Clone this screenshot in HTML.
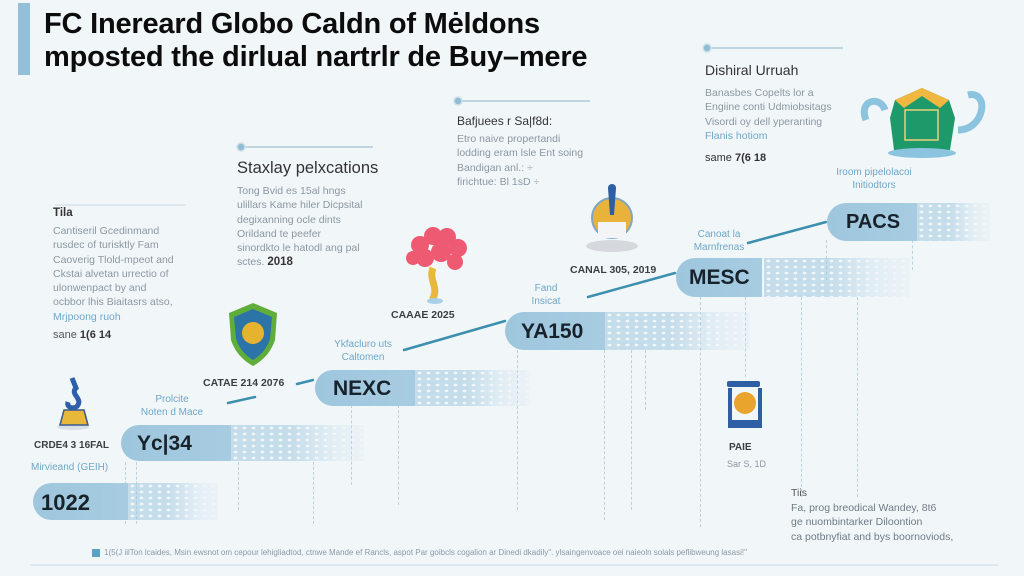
<!DOCTYPE html>
<html><head><meta charset="utf-8">
<style>
*{margin:0;padding:0;box-sizing:border-box}
html,body{width:1024px;height:576px;overflow:hidden;background:#f1f6f9}
body{position:relative;font-family:"Liberation Sans",sans-serif}
.a{position:absolute;white-space:nowrap}
.t{font-weight:bold;color:#0c0c0c;font-size:29px;letter-spacing:-0.2px}
.g{color:#8b98a2;font-size:10.5px;line-height:14.3px}
.b{color:#6fa7c8;font-size:10px;line-height:12.5px;text-align:center}
.lab{font-weight:bold;color:#3a3f44;font-size:10.5px}
.pill{position:absolute;border-radius:19px 0 0 19px;overflow:hidden}
.pill .s{position:absolute;left:0;top:0;bottom:0;background:linear-gradient(to right,#9ec6dd,#a7cce2)}
.pill .f{position:absolute;top:0;bottom:0;background-color:rgba(160,201,224,0.55);
background-image:radial-gradient(ellipse 3px 2px,#f1f6f9 60%,transparent 70%);background-size:9px 6px;
-webkit-mask-image:linear-gradient(to right,#000 0%,#000 45%,rgba(0,0,0,0.35) 75%,rgba(0,0,0,0.1) 100%);
mask-image:linear-gradient(to right,#000 0%,#000 45%,rgba(0,0,0,0.35) 75%,rgba(0,0,0,0.1) 100%)}
.pill span{position:absolute;font-weight:bold;color:#17222b;font-size:21px;top:7px}
.dash{position:absolute;width:0;border-left:1px dashed #b9d2e0}
</style></head><body>

<div class="a" style="left:18px;top:3px;width:12px;height:72px;background:#93c0d8"></div>
<div class="a t" style="left:44px;top:8px">FC Inereard Globo Caldn of Mėldons</div>
<div class="a t" style="left:44px;top:41px">mposted the dirlual nartrlr de Buy–mere</div>

<!-- dashed verticals -->
<div class="dash" style="left:125px;top:462px;height:62px"></div>
<div class="dash" style="left:136px;top:462px;height:62px"></div>
<div class="dash" style="left:238px;top:462px;height:48px"></div>
<div class="dash" style="left:313px;top:462px;height:62px"></div>
<div class="dash" style="left:351px;top:405px;height:80px"></div>
<div class="dash" style="left:398px;top:405px;height:100px"></div>
<div class="dash" style="left:517px;top:350px;height:160px"></div>
<div class="dash" style="left:604px;top:350px;height:170px"></div>
<div class="dash" style="left:631px;top:350px;height:160px"></div>
<div class="dash" style="left:645px;top:350px;height:60px"></div>
<div class="dash" style="left:700px;top:297px;height:230px"></div>
<div class="dash" style="left:745px;top:297px;height:80px"></div>
<div class="dash" style="left:801px;top:297px;height:200px"></div>
<div class="dash" style="left:857px;top:297px;height:200px"></div>
<div class="dash" style="left:826px;top:240px;height:40px"></div>
<div class="dash" style="left:912px;top:240px;height:30px"></div>

<!-- connectors -->
<svg class="a" style="left:0;top:0" width="1024" height="576">
<g stroke="#3d8fae" stroke-width="2.5" stroke-linecap="round">
<line x1="228" y1="403" x2="255" y2="397"/>
<line x1="297" y1="384" x2="313" y2="380"/>
<line x1="404" y1="350" x2="505" y2="321"/>
<line x1="588" y1="297" x2="675" y2="273"/>
<line x1="748" y1="243" x2="826" y2="222"/>
</g>
<g stroke="#c9dbe5" stroke-width="1">
<line x1="30" y1="565" x2="998" y2="565"/>
<line x1="55" y1="205" x2="186" y2="205"/>
</g>
<g stroke="#9fc1d4" stroke-width="1.2">
<line x1="245" y1="147" x2="373" y2="147"/>
<line x1="462" y1="101" x2="590" y2="101"/>
<line x1="711" y1="48" x2="843" y2="48"/>
</g>
<g fill="#8fbdd3" stroke="#cfe1ea" stroke-width="1.5">
<circle cx="241" cy="147" r="4"/><circle cx="458" cy="101" r="4"/><circle cx="707" cy="48" r="4"/>
</g>
<rect x="92" y="549" width="8" height="8" fill="#5aa3c4"/>

<!-- anchor icon -->
<ellipse cx="73" cy="427" rx="16" ry="3" fill="#d6e0e6"/>
<path d="M60 425 L64 410 L84 410 L88 425 Z" fill="#e8b83a" stroke="#3a5a8e" stroke-width="1.5"/>
<path d="M72 378 L76 388 C70 394 82 398 78 405 C75 410 66 408 68 402" fill="none" stroke="#2f5fa8" stroke-width="5"/>
<!-- shield -->
<path d="M229 313 L253 303 L277 313 L275 340 C270 355 260 362 253 366 C246 362 236 355 231 340 Z" fill="#5fae3a"/>
<path d="M234 317 L253 309 L272 317 L270 339 C266 351 259 356 253 360 C247 356 240 351 236 339 Z" fill="#2c74a8"/>
<circle cx="253" cy="333" r="11" fill="#e6b32e"/>
<!-- tree -->
<path d="M433 268 C428 280 440 288 432 300" stroke="#e8b83a" stroke-width="7" fill="none"/>
<ellipse cx="435" cy="301" rx="8" ry="3" fill="#a9cfe4"/>
<g fill="#ee5a72"><circle cx="420" cy="245" r="9"/><circle cx="433" cy="236" r="9"/><circle cx="447" cy="237" r="9"/><circle cx="458" cy="248" r="9"/><circle cx="425" cy="258" r="9"/><circle cx="441" cy="252" r="10"/><circle cx="455" cy="262" r="8"/><circle cx="413" cy="258" r="7"/></g>
<!-- rocket -->
<ellipse cx="612" cy="246" rx="26" ry="6" fill="#d5d9dd"/>
<circle cx="612" cy="218" r="20" fill="#e9b23a" stroke="#7fa7c6" stroke-width="2"/>
<rect x="598" y="222" width="28" height="16" fill="#f2f4f5"/>
<path d="M608 188 L616 188 L614 215 L610 215 Z" fill="#2e5fa5"/>
<circle cx="612" cy="188" r="4" fill="#2e5fa5"/>
<!-- house -->
<path d="M866 120 C858 100 880 95 885 110 M968 95 C990 90 985 130 958 130" stroke="#8cc4e0" stroke-width="7" fill="none"/>
<path d="M890 118 L895 100 L922 88 L949 100 L955 118 L950 150 L894 150 Z" fill="#1e9a6a"/>
<path d="M895 100 L922 88 L949 100 L940 108 L922 96 L904 108 Z" fill="#f0b840"/>
<rect x="905" y="110" width="33" height="30" fill="none" stroke="#e9d27a" stroke-width="1.5"/>
<ellipse cx="922" cy="153" rx="34" ry="5" fill="#8cc4e0"/>
<!-- PAIE -->
<rect x="727" y="381" width="33" height="6" rx="2" fill="#2e5fa5"/>
<path d="M728 388 L732 388 L732 420 L758 420 L758 388 L762 388 L762 428 L728 428 Z" fill="#2e5fa5"/>
<circle cx="745" cy="403" r="11" fill="#e9a42e"/>
</svg>

<!-- pills -->
<div class="pill" style="left:33px;top:483px;width:185px;height:37px"><div class="s" style="width:95px"></div><div class="f" style="left:95px;width:90px"></div><span style="left:8px;font-size:22px">1022</span></div>
<div class="pill" style="left:121px;top:425px;width:243px;height:36px"><div class="s" style="width:110px"></div><div class="f" style="left:110px;width:133px"></div><span style="left:16px">Yc|34</span></div>
<div class="pill" style="left:315px;top:370px;width:215px;height:36px"><div class="s" style="width:100px"></div><div class="f" style="left:100px;width:115px"></div><span style="left:18px">NEXC</span></div>
<div class="pill" style="left:505px;top:312px;width:245px;height:38px"><div class="s" style="width:100px"></div><div class="f" style="left:100px;width:145px"></div><span style="left:16px;top:8px">YA150</span></div>
<div class="pill" style="left:676px;top:258px;width:234px;height:39px"><div class="s" style="width:86px"></div><div class="f" style="left:88px;width:146px"></div><span style="left:13px;top:8px">MESC</span></div>
<div class="pill" style="left:827px;top:203px;width:163px;height:38px"><div class="s" style="width:90px"></div><div class="f" style="left:90px;width:73px"></div><span style="left:19px;font-size:20px;top:8px">PACS</span></div>

<!-- left block -->
<div class="a" style="left:53px;top:207px;font-size:11.5px;font-weight:bold;color:#333">Tila</div>
<div class="a g" style="left:53px;top:224px">Cantiseril Gcedinmand<br>rusdec of turisktly Fam<br>Caoverig Tlold-mpeot and<br>Ckstai alvetan urrectio of<br>ulonwenpact by and<br>ocbbor lhis Biaitasrs atso,<br><span style="color:#6fa7c8">Mrjpoong ruoh</span></div>
<div class="a" style="left:53px;top:329px;font-size:11px;color:#333"><span style="color:#555">sane</span> <b>1(6 14</b></div>

<div class="a" style="left:237px;top:159px;font-size:16.5px;color:#333">Staxlay pelxcations</div>
<div class="a g" style="left:237px;top:184px">Tong Bvid es 15al hngs<br>ulillars Kame hiler Dicpsital<br>degixanning ocle dints<br>Orildand te peefer<br>sinordkto le hatodl ang pal<br>sctes. <b style="color:#333;font-size:11.5px">2018</b></div>

<div class="a" style="left:457px;top:114px;font-size:12px;color:#333">Bafjuees r Sa|f8d:</div>
<div class="a g" style="left:457px;top:132px">Etro naive propertandi<br>lodding eram lsle Ent soing<br>Bandigan anl.: ÷<br>firichtue: Bl 1sD ÷</div>

<div class="a" style="left:705px;top:62px;font-size:14px;color:#333">Dishiral Urruah</div>
<div class="a g" style="left:705px;top:86px">Banasbes Copelts lor a<br>Engiine conti Udmiobsitags<br>Visordi oy dell yperanting<br><span style="color:#6fa7c8">Flanis hotiom</span></div>
<div class="a" style="left:705px;top:152px;font-size:11px;color:#333">same <b>7(6 18</b></div>
<div class="a b" style="left:818px;top:167px;width:112px">Iroom pipelolacoi<br>Initiodtors</div>

<!-- labels -->
<div class="a lab" style="left:34px;top:440px;font-size:10px">CRDE4 3 16FAL</div>
<div class="a b" style="left:31px;top:462px">Mirvieand (GEIH)</div>
<div class="a b" style="left:136px;top:394px;width:72px">Prolcite<br>Noten d Mace</div>
<div class="a lab" style="left:203px;top:377px">CATAE 214 2076</div>
<div class="a b" style="left:322px;top:339px;width:82px">Ykfacluro uts<br>Caltomen</div>
<div class="a lab" style="left:391px;top:309px">CAAAE 2025</div>
<div class="a b" style="left:528px;top:283px;width:36px">Fand<br>Insicat</div>
<div class="a lab" style="left:570px;top:264px">CANAL 305, 2019</div>
<div class="a b" style="left:686px;top:229px;width:66px">Canoat la<br>Marnfrenas</div>
<div class="a lab" style="left:729px;top:442px;font-size:10px">PAIE</div>
<div class="a g" style="left:727px;top:457px;font-size:9px">Sar S, 1D</div>

<div class="a" style="left:791px;top:487px;font-size:10.5px;color:#555">Tiis</div>
<div class="a g" style="left:791px;top:501px;color:#6e7c87">Fa, prog breodical Wandey, 8t6<br>ge nuombintarker Diloontion<br>ca potbnyfiat and bys boornoviods,</div>

<div class="a" style="left:104px;top:548px;font-size:8px;color:#8a9aa5">1(5(J iilTon lcaides, Msin ewsnot om cepour lehigliadtod, ctnwe Mande ef Rancls, aspot Par goibcls cogalion ar Dinedi dkadily". ylsaingenvoace oei naieoln solals peflibweung lasasi!"</div>
</body></html>
